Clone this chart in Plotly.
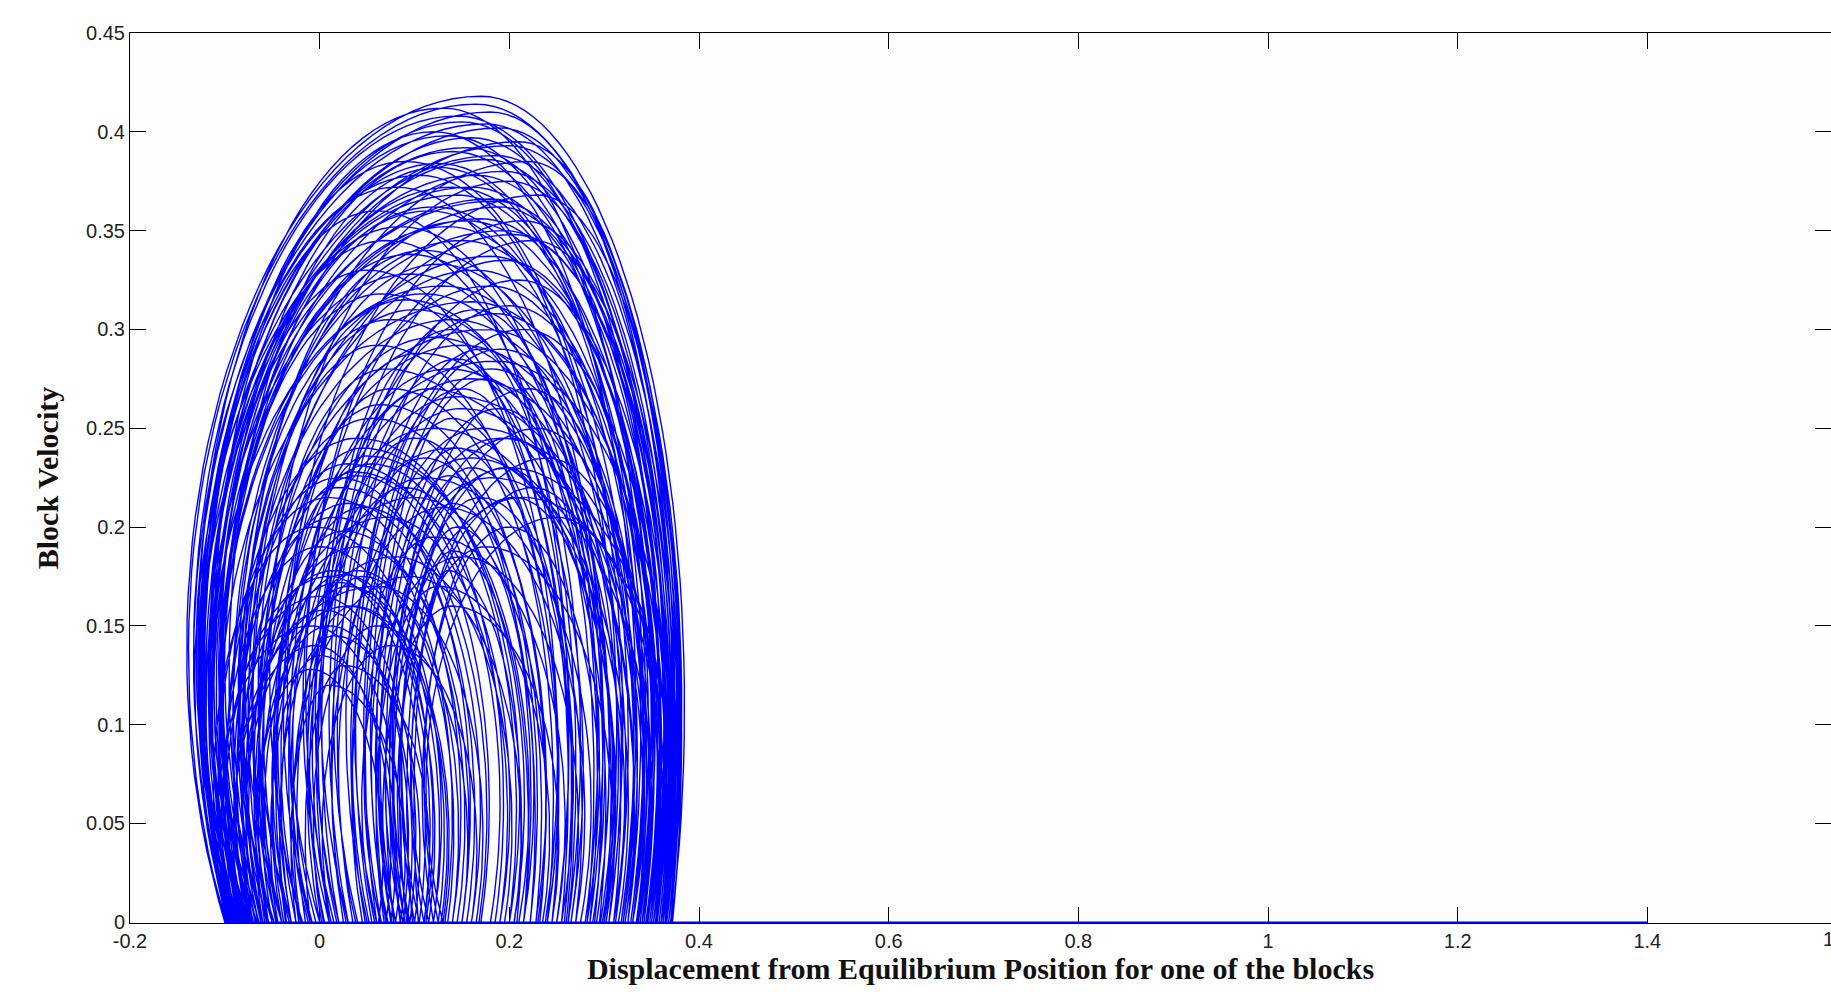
import numpy as np
import plotly.graph_objects as go

# ---------------- data ----------------
x_tick_vals = [-0.2, 0, 0.2, 0.4, 0.6, 0.8, 1.0, 1.2, 1.4]
x_tick_text = ["-0.2", "0", "0.2", "0.4", "0.6", "0.8", "1", "1.2", "1.4"]
y_tick_vals = [0, 0.05, 0.1, 0.15, 0.2, 0.25, 0.3, 0.35, 0.4, 0.45]
y_tick_text = ["0", "0.05", "0.1", "0.15", "0.2", "0.25", "0.3", "0.35", "0.4", "0.45"]

# initial resting displacement (block sits at v = 0 before the first slip)
rest_start = 1.4

# each slip event: displacement where it starts (v=0), displacement at peak,
# peak velocity, displacement where it sticks again (v=0)
arc_start = [
    -0.100, -0.095, -0.090, -0.088, -0.085, -0.082, -0.080, -0.076, -0.073, -0.070, -0.067, -0.064,
    -0.098, -0.094, -0.090, -0.086, -0.080, -0.075, -0.071, -0.066, -0.060, -0.056, -0.050, -0.046, -0.040,
    -0.092, -0.085, -0.078, -0.070, -0.062, -0.055, -0.048, -0.040, -0.032, -0.025, -0.018, -0.010, -0.004, 0.004, 0.012,
    -0.080, -0.072, -0.065, -0.058, -0.050, -0.044, -0.036, -0.030, -0.022,
    0.020, 0.035, 0.048, 0.060, 0.070, 0.078, 0.085, 0.092, 0.098, 0.104, 0.030, 0.055, 0.075,
    -0.095, -0.090, -0.085, -0.080, -0.075, -0.070, -0.065, -0.060, -0.055, -0.050, -0.045, -0.040,
    -0.035, -0.030, -0.025, -0.020, -0.015, -0.010,
    -0.060, -0.040, -0.020, 0.000, 0.015, 0.030, -0.050, -0.030, 0.010, 0.040, 0.050, 0.060, -0.010, 0.020, 0.065, 0.070,
    -0.099, -0.097, -0.096, -0.094, -0.092, -0.088, -0.084, -0.078, -0.070, -0.062, -0.054, -0.046,
    -0.098, -0.092, -0.088, -0.083, -0.077, -0.068, -0.062, -0.054, -0.046, -0.038, 0.000, 0.010, 0.025,
    0.080, 0.090, 0.100, 0.110, 0.120, 0.095, 0.105, 0.115, 0.125, 0.130, 0.085, 0.090,
    -0.099, -0.097, -0.093, -0.091, -0.089, -0.087, -0.084, -0.081, -0.079, -0.077, -0.074, -0.072,
    -0.020, -0.008, 0.005, 0.018, 0.028, 0.038, 0.045, 0.052, 0.058, 0.064, 0.068, 0.072, 0.076,
    0.080, 0.088, 0.094, -0.060, -0.050, -0.040, -0.030, -0.070, -0.064, -0.012, 0.002, 0.012,
]
arc_peak_x = [
    0.170, 0.130, 0.180, 0.150, 0.190, 0.120, 0.160, 0.200, 0.140, 0.175, 0.125, 0.195,
    0.105, 0.160, 0.145, 0.185, 0.115, 0.170, 0.135, 0.195, 0.150, 0.110, 0.180, 0.125, 0.165,
    0.095, 0.130, 0.110, 0.160, 0.100, 0.140, 0.175, 0.120, 0.150, 0.105, 0.185, 0.135, 0.160, 0.115, 0.145,
    0.040, 0.030, 0.055, 0.020, 0.045, 0.065, 0.035, 0.075, 0.050,
    0.140, 0.145, 0.150, 0.140, 0.145, 0.135, 0.140, 0.145, 0.140, 0.135, 0.165, 0.170, 0.175,
    -0.010, 0.000, 0.010, -0.005, 0.015, 0.005, 0.020, -0.010, 0.010, 0.025, 0.000, 0.030,
    0.015, 0.040, 0.010, 0.035, 0.045, 0.025,
    0.210, 0.220, 0.200, 0.230, 0.215, 0.225, 0.190, 0.205, 0.195, 0.210, 0.200, 0.215, 0.180, 0.185, 0.190, 0.180,
    0.060, 0.080, 0.070, 0.090, 0.050, 0.085, 0.065, 0.095, 0.075, 0.060, 0.090, 0.070,
    -0.005, 0.010, 0.000, 0.020, 0.015, 0.030, 0.040, 0.025, 0.055, 0.045, 0.090, 0.100, 0.110,
    0.190, 0.200, 0.195, 0.205, 0.200, 0.220, 0.230, 0.240, 0.225, 0.250, 0.160, 0.170,
    0.165, 0.145, 0.175, 0.135, 0.155, 0.185, 0.125, 0.165, 0.140, 0.180, 0.120, 0.155,
    0.120, 0.140, 0.110, 0.150, 0.130, 0.160, 0.120, 0.170, 0.150, 0.180, 0.125, 0.190, 0.140,
    0.200, 0.215, 0.175, 0.040, 0.070, 0.080, 0.100, 0.060, 0.030, 0.095, 0.060, 0.075,
]
arc_peak_v = [
    0.418, 0.412, 0.410, 0.405, 0.402, 0.400, 0.397, 0.393, 0.390, 0.386, 0.382, 0.380,
    0.378, 0.372, 0.368, 0.365, 0.360, 0.356, 0.352, 0.350, 0.345, 0.340, 0.337, 0.333, 0.330,
    0.328, 0.322, 0.318, 0.314, 0.310, 0.305, 0.300, 0.296, 0.292, 0.288, 0.284, 0.280, 0.275, 0.270, 0.266,
    0.245, 0.232, 0.255, 0.220, 0.240, 0.262, 0.228, 0.270, 0.236,
    0.300, 0.285, 0.270, 0.255, 0.240, 0.226, 0.212, 0.200, 0.188, 0.178, 0.310, 0.290, 0.275,
    0.150, 0.165, 0.175, 0.140, 0.178, 0.158, 0.172, 0.128, 0.150, 0.176, 0.135, 0.170,
    0.145, 0.178, 0.120, 0.160, 0.175, 0.130,
    0.395, 0.385, 0.375, 0.368, 0.355, 0.345, 0.362, 0.348, 0.335, 0.325, 0.312, 0.300, 0.322, 0.308, 0.290, 0.280,
    0.360, 0.372, 0.345, 0.385, 0.330, 0.352, 0.318, 0.338, 0.305, 0.292, 0.315, 0.280,
    0.200, 0.215, 0.190, 0.225, 0.205, 0.212, 0.226, 0.198, 0.232, 0.210, 0.220, 0.245, 0.235,
    0.260, 0.245, 0.230, 0.215, 0.200, 0.270, 0.250, 0.235, 0.220, 0.205, 0.230, 0.215,
    0.414, 0.408, 0.404, 0.398, 0.392, 0.388, 0.384, 0.378, 0.372, 0.366, 0.362, 0.355,
    0.250, 0.240, 0.225, 0.260, 0.210, 0.235, 0.195, 0.250, 0.185, 0.225, 0.170, 0.245, 0.160,
    0.230, 0.215, 0.190, 0.190, 0.205, 0.185, 0.215, 0.170, 0.160, 0.175, 0.150, 0.140,
]
arc_end = [
    0.371, 0.330, 0.360, 0.345, 0.365, 0.320, 0.352, 0.368, 0.338, 0.356, 0.325, 0.362,
    0.300, 0.350, 0.334, 0.358, 0.312, 0.348, 0.328, 0.364, 0.340, 0.305, 0.354, 0.318, 0.344,
    0.292, 0.322, 0.302, 0.346, 0.288, 0.330, 0.352, 0.310, 0.336, 0.296, 0.360, 0.322, 0.344, 0.298, 0.330,
    0.200, 0.180, 0.215, 0.160, 0.205, 0.228, 0.190, 0.240, 0.210,
    0.262, 0.258, 0.255, 0.245, 0.240, 0.232, 0.228, 0.222, 0.215, 0.208, 0.290, 0.285, 0.282,
    0.080, 0.095, 0.105, 0.070, 0.110, 0.088, 0.115, 0.062, 0.092, 0.120, 0.075, 0.125,
    0.100, 0.135, 0.085, 0.130, 0.140, 0.110,
    0.366, 0.370, 0.360, 0.372, 0.362, 0.368, 0.352, 0.358, 0.350, 0.360, 0.348, 0.356, 0.340, 0.342, 0.335, 0.325,
    0.250, 0.285, 0.262, 0.305, 0.238, 0.280, 0.250, 0.292, 0.265, 0.240, 0.282, 0.255,
    0.120, 0.140, 0.112, 0.150, 0.132, 0.155, 0.170, 0.145, 0.185, 0.168, 0.200, 0.215, 0.222,
    0.300, 0.310, 0.295, 0.305, 0.290, 0.335, 0.340, 0.350, 0.325, 0.355, 0.260, 0.270,
    0.368, 0.350, 0.362, 0.336, 0.346, 0.366, 0.328, 0.354, 0.340, 0.362, 0.318, 0.346,
    0.300, 0.310, 0.275, 0.320, 0.270, 0.315, 0.250, 0.330, 0.265, 0.340, 0.235, 0.352, 0.245,
    0.360, 0.362, 0.300, 0.150, 0.190, 0.195, 0.230, 0.165, 0.128, 0.205, 0.150, 0.160,
]

# ---------------- geometry of one slip arc (two quarter ellipses) ----------------
K_LEFT = 0.33   # height of left quarter-ellipse centre, as share of the peak
K_RIGHT = 0.26  # same for the right quarter
N_Q = 45


def slip_arc(s, px, p, e):
    vc = K_LEFT * p
    b = p - vc
    th = np.arcsin(vc / b)
    a = (px - s) / np.cos(th)
    phi = np.linspace(-th, np.pi / 2, N_Q)
    xl = px - a * np.cos(phi)
    vl = vc + b * np.sin(phi)
    vc2 = K_RIGHT * p
    b2 = p - vc2
    th2 = np.arcsin(vc2 / b2)
    a2 = (e - px) / np.cos(th2)
    phi2 = np.linspace(np.pi / 2, -th2, N_Q)[1:]
    xr = px + a2 * np.cos(phi2)
    vr = vc2 + b2 * np.sin(phi2)
    return np.concatenate([xl, xr]), np.concatenate([vl, vr])


xs = [rest_start]
vs = [0.0]
for s, px, p, e in zip(arc_start, arc_peak_x, arc_peak_v, arc_end):
    ax_, av_ = slip_arc(s, px, p, e)
    xs.extend(ax_.tolist())
    vs.extend(av_.tolist())

fig = go.Figure()
fig.add_trace(go.Scatter(
    x=xs, y=vs, mode="lines",
    line=dict(color="#0000ff", width=1.4),
    hoverinfo="skip", showlegend=False,
))
# invisible trace to carry the right-hand mirrored ticks
fig.add_trace(go.Scatter(x=[xs[0]], y=[vs[0]], yaxis="y2", mode="lines",
                         line=dict(width=0), hoverinfo="skip", showlegend=False))

W, H = 1831, 995
L, R, T, B = 130, 0, 33, 72
full_right_px = 1837  # the axes box continues just past the window edge
x_lo, x_hi_full = -0.2, 1.6
x_hi = x_lo + (x_hi_full - x_lo) * (W - L - R) / (full_right_px - L)
y_lo, y_hi = -0.0004, 0.45   # tiny offset keeps the v = 0 line visible above the axis

tick_font = dict(family="Liberation Sans, Arial, sans-serif", size=20, color="#222222")
title_font = dict(family="Liberation Serif, Times New Roman, serif", size=30, color="#111111")

fig.update_layout(
    width=W, height=H,
    margin=dict(l=L, r=R, t=T, b=B),
    paper_bgcolor="white", plot_bgcolor="#fdfdfd",
    xaxis=dict(
        range=[x_lo, x_hi], tickvals=x_tick_vals, ticktext=x_tick_text,
        ticks="inside", ticklen=16, tickwidth=1, tickcolor="black",
        showline=True, linecolor="black", linewidth=1, mirror="ticks",
        showgrid=False, zeroline=False, tickfont=tick_font, layer="below traces",
        title=dict(text="<b>Displacement from Equilibrium Position for one of the blocks</b>",
                   font=title_font, standoff=4),
    ),
    yaxis=dict(
        range=[y_lo, y_hi], tickvals=y_tick_vals, ticktext=y_tick_text,
        ticks="inside", ticklen=16, tickwidth=1, tickcolor="black",
        showline=True, linecolor="black", linewidth=1, mirror=False,
        showgrid=False, zeroline=False, tickfont=tick_font, layer="below traces",
        title=dict(text="<b>Block Velocity</b>", font=title_font, standoff=18),
    ),
    yaxis2=dict(
        range=[y_lo, y_hi], overlaying="y", side="right", tickvals=y_tick_vals,
        ticks="inside", ticklen=16, tickwidth=1, tickcolor="black",
        showticklabels=False, showline=False, showgrid=False, zeroline=False,
    ),
    annotations=[dict(
        x=(x_hi_full - x_lo) / (x_hi - x_lo), y=0, xref="paper", yref="paper",
        text="1.6", showarrow=False,
        yanchor="top", xanchor="center", yshift=-3, font=tick_font,
    )],
)

fig.write_html("out.html")
